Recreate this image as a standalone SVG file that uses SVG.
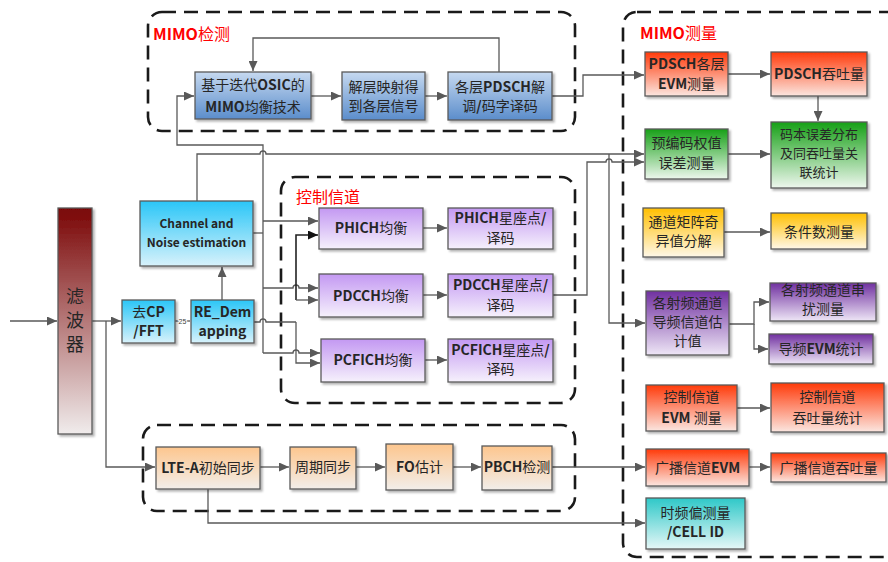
<svg xmlns="http://www.w3.org/2000/svg" width="888" height="562" viewBox="0 0 888 562">
<style>
.t{font-family:"Noto Sans CJK SC","Noto Sans",sans-serif;font-size:14px;fill:#262626;text-anchor:middle}
.b{font-weight:bold}
.s18{font-size:18px}
.s13{font-size:13px}
.s12{font-size:12px}
.ttl{font-family:"Noto Sans CJK SC","Noto Sans",sans-serif;font-size:16px;fill:#ff0000}
.box{stroke:#5a5a5a;stroke-width:1.3;filter:url(#sh)}
.frame{fill:none;stroke:#1a1a1a;stroke-width:2.6;stroke-dasharray:14 8}
.c{fill:none;stroke:#595959;stroke-width:1.3}
.ca{fill:none;stroke:#595959;stroke-width:1.3;marker-end:url(#ar)}
</style>
<defs>
<filter id="sh" x="-10%" y="-10%" width="130%" height="130%"><feDropShadow dx="2" dy="2" stdDeviation="1.2" flood-color="#000" flood-opacity="0.3"/></filter>
<marker id="ar" markerUnits="userSpaceOnUse" markerWidth="11" markerHeight="9" refX="10" refY="4.5" orient="auto"><path d="M0,0 L10,4.5 L0,9 z" fill="#595959"/></marker>
<marker id="arb" markerUnits="userSpaceOnUse" markerWidth="11" markerHeight="9" refX="10" refY="4.5" orient="auto"><path d="M0,0 L10,4.5 L0,9 z" fill="#111"/></marker>
<linearGradient id="gF" x1="0" y1="0" x2="0" y2="1"><stop offset="0" stop-color="#7a0505"/><stop offset="1" stop-color="#f0ecec"/></linearGradient>
<linearGradient id="gC" x1="0" y1="0" x2="0" y2="1"><stop offset="0" stop-color="#2ac6f7"/><stop offset="1" stop-color="#d8f2fb"/></linearGradient>
<linearGradient id="gB" x1="0" y1="0" x2="0" y2="1"><stop offset="0" stop-color="#c6d9f0"/><stop offset="1" stop-color="#5b8dcb"/></linearGradient>
<linearGradient id="gR" x1="0" y1="0" x2="0" y2="1"><stop offset="0" stop-color="#ff3a0a"/><stop offset="1" stop-color="#fbe6e0"/></linearGradient>
<linearGradient id="gG" x1="0" y1="0" x2="0" y2="1"><stop offset="0" stop-color="#16a016"/><stop offset="1" stop-color="#eef7ee"/></linearGradient>
<linearGradient id="gY" x1="0" y1="0" x2="0" y2="1"><stop offset="0" stop-color="#ffbf00"/><stop offset="1" stop-color="#fff8e8"/></linearGradient>
<linearGradient id="gPD" x1="0" y1="0" x2="0" y2="1"><stop offset="0" stop-color="#7030a0"/><stop offset="1" stop-color="#eee6f6"/></linearGradient>
<linearGradient id="gPL" x1="0" y1="0" x2="0" y2="1"><stop offset="0" stop-color="#c398f2"/><stop offset="1" stop-color="#f6f1fc"/></linearGradient>
<linearGradient id="gO" x1="0" y1="0" x2="0" y2="1"><stop offset="0" stop-color="#fdc68e"/><stop offset="1" stop-color="#f2eeea"/></linearGradient>
<linearGradient id="gT" x1="0" y1="0" x2="0" y2="1"><stop offset="0" stop-color="#2ec8c8"/><stop offset="1" stop-color="#e6f7f7"/></linearGradient>
</defs>
<rect width="888" height="562" fill="#fff"/>

<g id="frames">
<g id="frame-mimo-detect"><rect class="frame" x="148" y="12" width="427" height="119" rx="14"/><text class="ttl" x="153" y="40"><tspan class="b">MIMO</tspan>检测</text></g>
<g id="frame-control"><rect class="frame" x="281" y="177" width="294" height="226" rx="14"/><text class="ttl" x="296" y="203">控制信道</text></g>
<g id="frame-mimo-measure"><rect class="frame" x="623" y="12" width="300" height="545" rx="14"/><text class="ttl" x="640" y="39"><tspan class="b">MIMO</tspan>测量</text></g>
<g id="frame-sync"><rect class="frame" x="143" y="425" width="432" height="86" rx="14"/></g>
</g>

<g id="connectors">
<path class="ca" d="M10,321 H57"/>
<path class="ca" d="M92,321 H121"/>
<path class="ca" d="M106,321 V467 H155"/>
<path class="c" d="M175,321 H190"/>
<text x="182.5" y="324" font-family="Liberation Sans, sans-serif" font-size="7" fill="#404040" text-anchor="middle" stroke="#fff" stroke-width="2" paint-order="stroke">25</text>
<path class="ca" d="M222,300 V267"/>
<path class="ca" d="M197,201 V154 H260 A3,3 0 0 1 266,154 H644"/>
<path class="c" d="M253,233 H263"/>
<path class="ca" d="M263,353 V145 H177 V96 H194"/>
<path class="ca" d="M263,221 H318"/>
<path class="ca" d="M263,288 H293 A3,3 0 0 1 299,288 H318"/>
<path class="ca" d="M263,353 H293 A3,3 0 0 1 299,353 H320"/>
<path class="c" d="M254,322 H260 A3,3 0 0 1 266,322 H296"/>
<path fill="none" stroke="#222" stroke-width="1.6" marker-end="url(#arb)" d="M296,300 V235 H318"/>
<path class="ca" d="M296,300 H318"/>
<path class="ca" d="M296,322 V363 H320"/>
<path class="ca" d="M311,96 H341"/>
<path class="ca" d="M425,96 H447"/>
<path class="ca" d="M499,72 V38 H253 V71"/>
<path class="ca" d="M552,96 H583 V75 H644"/>
<path class="ca" d="M728,74 H770"/>
<path class="ca" d="M818,96 V121"/>
<path class="ca" d="M728,154 H770"/>
<path class="ca" d="M553,295 H587 V162 H606 A3,3 0 0 1 612,162 H644"/>
<path class="ca" d="M609,154 V323 H645"/>
<path class="ca" d="M724,232 H770"/>
<path class="ca" d="M729,324 H754 V302 H769"/>
<path class="ca" d="M754,324 V349 H768"/>
<path class="ca" d="M423,228 H447"/>
<path class="ca" d="M423,295 H447"/>
<path class="ca" d="M425,360 H447"/>
<path class="ca" d="M737,408 H770"/>
<path class="ca" d="M749,467 H770"/>
<path class="ca" d="M260,467 H289"/>
<path class="ca" d="M356,467 H385"/>
<path class="ca" d="M453,467 H481"/>
<path class="ca" d="M552,467 H645"/>
<path class="ca" d="M208,489 V523 H645"/>
</g>

<g id="n-filter"><rect class="box" x="58" y="208" width="34" height="226" fill="url(#gF)"/><text class="t s18" x="75" y="303">滤</text><text class="t s18" x="75" y="327">波</text><text class="t s18" x="75" y="351">器</text></g>
<g id="n-cp"><rect class="box" x="122" y="300" width="53" height="43" fill="url(#gC)"/><text class="t" x="148.5" y="317">去<tspan class="b">CP</tspan></text><text class="t b" x="148.5" y="336">/FFT</text></g>
<g id="n-redem"><rect class="box" x="191" y="300" width="63" height="43" fill="url(#gC)"/><text class="t b" x="222.5" y="317">RE_Dem</text><text class="t b" x="222.5" y="336">apping</text></g>
<g id="n-chan"><rect class="box" x="140" y="201" width="113" height="65" fill="url(#gC)"/><text class="t b s12" x="196.5" y="228">Channel and</text><text class="t b s12" x="196.5" y="247">Noise estimation</text></g>

<g id="n-osic"><rect class="box" x="195" y="72" width="116" height="47" fill="url(#gB)"/><text class="t" x="253" y="90">基于迭代<tspan class="b">OSIC</tspan>的</text><text class="t" x="253" y="112"><tspan class="b">MIMO</tspan>均衡技术</text></g>
<g id="n-demap"><rect class="box" x="342" y="72" width="83" height="48" fill="url(#gB)"/><text class="t" x="383.5" y="92">解层映射得</text><text class="t" x="383.5" y="111">到各层信号</text></g>
<g id="n-pdschdec"><rect class="box" x="448" y="72" width="104" height="48" fill="url(#gB)"/><text class="t" x="500" y="92">各层<tspan class="b">PDSCH</tspan>解</text><text class="t" x="500" y="111">调<tspan class="b">/</tspan>码字译码</text></g>

<g id="n-phich"><rect class="box" x="319" y="208" width="104" height="41" fill="url(#gPL)"/><text class="t" x="371" y="233"><tspan class="b">PHICH</tspan>均衡</text></g>
<g id="n-phich2"><rect class="box" x="448" y="208" width="105" height="41" fill="url(#gPL)"/><text class="t" x="500.5" y="223"><tspan class="b">PHICH</tspan>星座点<tspan class="b">/</tspan></text><text class="t" x="500.5" y="243">译码</text></g>
<g id="n-pdcch"><rect class="box" x="319" y="274" width="104" height="43" fill="url(#gPL)"/><text class="t" x="371" y="301"><tspan class="b">PDCCH</tspan>均衡</text></g>
<g id="n-pdcch2"><rect class="box" x="448" y="274" width="105" height="43" fill="url(#gPL)"/><text class="t" x="500.5" y="290"><tspan class="b">PDCCH</tspan>星座点<tspan class="b">/</tspan></text><text class="t" x="500.5" y="310">译码</text></g>
<g id="n-pcfich"><rect class="box" x="321" y="339" width="104" height="43" fill="url(#gPL)"/><text class="t" x="373" y="365"><tspan class="b">PCFICH</tspan>均衡</text></g>
<g id="n-pcfich2"><rect class="box" x="448" y="339" width="105" height="43" fill="url(#gPL)"/><text class="t" x="500.5" y="355"><tspan class="b">PCFICH</tspan>星座点<tspan class="b">/</tspan></text><text class="t" x="500.5" y="374">译码</text></g>

<g id="n-lte"><rect class="box" x="156" y="447" width="104" height="42" fill="url(#gO)"/><text class="t" x="208" y="473"><tspan class="b">LTE-A</tspan>初始同步</text></g>
<g id="n-period"><rect class="box" x="290" y="447" width="66" height="42" fill="url(#gO)"/><text class="t" x="323" y="472">周期同步</text></g>
<g id="n-fo"><rect class="box" x="386" y="444" width="67" height="46" fill="url(#gO)"/><text class="t" x="419.5" y="472"><tspan class="b">FO</tspan>估计</text></g>
<g id="n-pbch"><rect class="box" x="482" y="446" width="70" height="44" fill="url(#gO)"/><text class="t" x="517" y="472"><tspan class="b">PBCH</tspan>检测</text></g>

<g id="n-evm"><rect class="box" x="645" y="52" width="83" height="44" fill="url(#gR)"/><text class="t" x="686.5" y="69"><tspan class="b">PDSCH</tspan>各层</text><text class="t" x="686.5" y="89"><tspan class="b">EVM</tspan>测量</text></g>
<g id="n-thr"><rect class="box" x="771" y="52" width="96" height="44" fill="url(#gR)"/><text class="t" x="819" y="79"><tspan class="b">PDSCH</tspan>吞吐量</text></g>
<g id="n-prec"><rect class="box" x="645" y="129" width="83" height="50" fill="url(#gG)"/><text class="t" x="686.5" y="148">预编码权值</text><text class="t" x="686.5" y="168">误差测量</text></g>
<g id="n-codebook"><rect class="box" x="771" y="122" width="96" height="66" fill="url(#gG)"/><text class="t s13" x="819" y="139">码本误差分布</text><text class="t s13" x="819" y="158">及同吞吐量关</text><text class="t s13" x="819" y="177">联统计</text></g>
<g id="n-svd"><rect class="box" x="643" y="208" width="81" height="49" fill="url(#gY)"/><text class="t" x="683.5" y="227">通道矩阵奇</text><text class="t" x="683.5" y="246">异值分解</text></g>
<g id="n-cond"><rect class="box" x="771" y="213" width="96" height="36" fill="url(#gY)"/><text class="t" x="819" y="237">条件数测量</text></g>
<g id="n-rf"><rect class="box" x="646" y="291" width="83" height="64" fill="url(#gPD)"/><text class="t" x="687.5" y="308">各射频通道</text><text class="t" x="687.5" y="327">导频信道估</text><text class="t" x="687.5" y="346">计值</text></g>
<g id="n-xtalk"><rect class="box" x="770" y="283" width="106" height="38" fill="url(#gPD)"/><text class="t" x="823" y="295">各射频通道串</text><text class="t" x="823" y="314">扰测量</text></g>
<g id="n-pevm"><rect class="box" x="769" y="334" width="104" height="30" fill="url(#gPD)"/><text class="t" x="821" y="354">导频<tspan class="b">EVM</tspan>统计</text></g>
<g id="n-cevm"><rect class="box" x="646" y="385" width="91" height="46" fill="url(#gR)"/><text class="t" x="691.5" y="402">控制信道</text><text class="t" x="691.5" y="423"><tspan class="b">EVM</tspan> 测量</text></g>
<g id="n-cthr"><rect class="box" x="771" y="383" width="113" height="49" fill="url(#gR)"/><text class="t" x="827.5" y="402">控制信道</text><text class="t" x="827.5" y="423">吞吐量统计</text></g>
<g id="n-bevm"><rect class="box" x="646" y="449" width="103" height="37" fill="url(#gR)"/><text class="t" x="697.5" y="473">广播信道<tspan class="b">EVM</tspan></text></g>
<g id="n-bthr"><rect class="box" x="771" y="453" width="115" height="29" fill="url(#gR)"/><text class="t" x="828.5" y="473">广播信道吞吐量</text></g>
<g id="n-cell"><rect class="box" x="646" y="498" width="99" height="51" fill="url(#gT)"/><text class="t" x="695.5" y="518">时频偏测量</text><text class="t b" x="695.5" y="537">/CELL ID</text></g>
</svg>
